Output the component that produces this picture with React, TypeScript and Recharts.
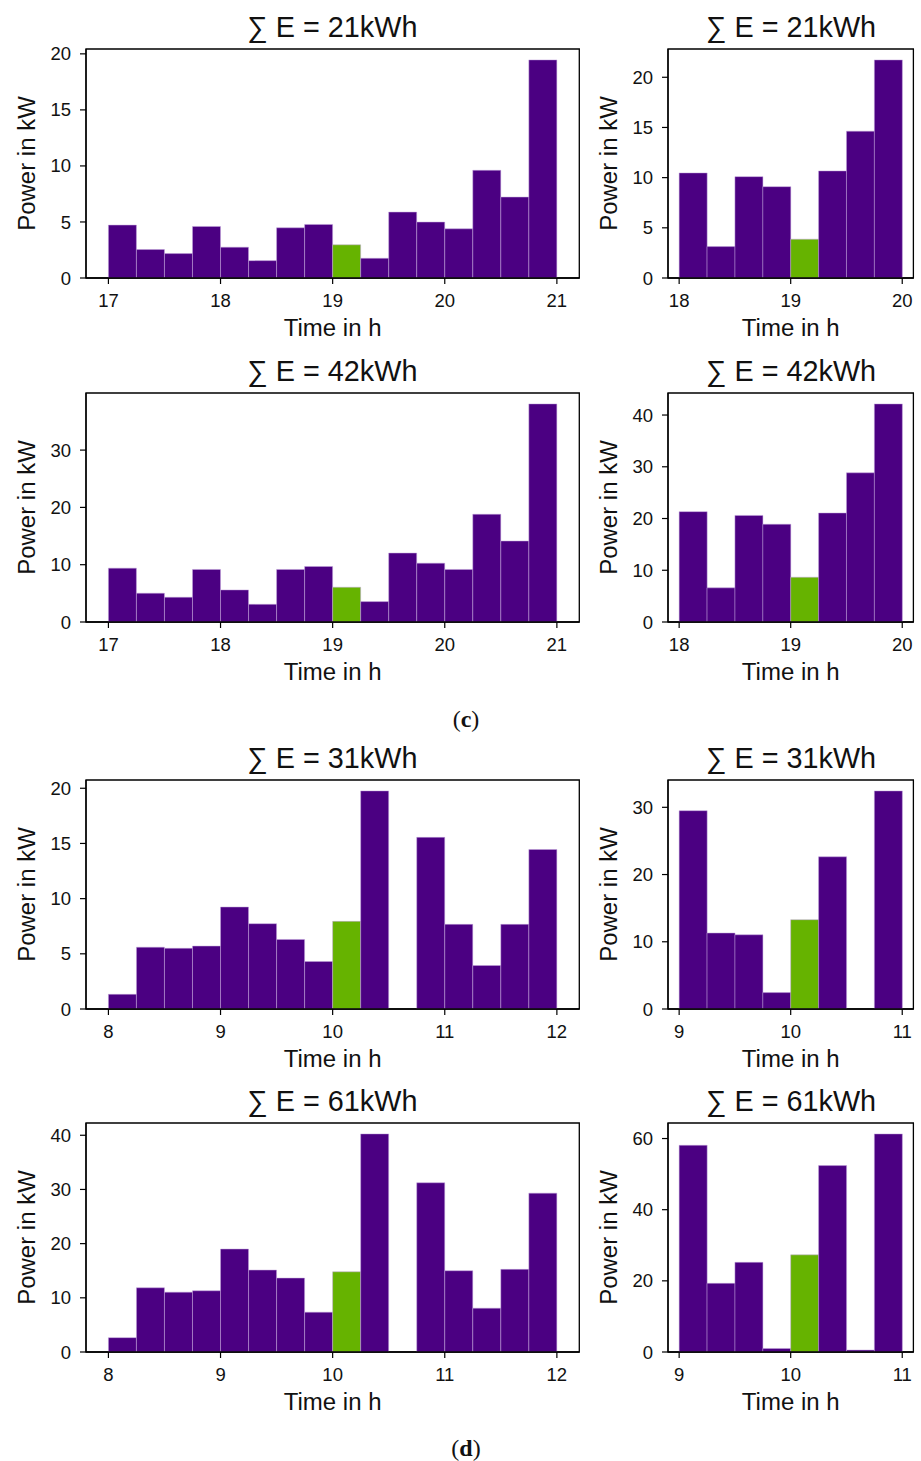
import React from 'react';
import { BarChart, Bar, XAxis, YAxis, Cell, ReferenceArea, Label } from 'recharts';

const PURPLE = '#4b0082';
const GREEN = '#66b300';
const FONT = '"Liberation Sans", Arial, sans-serif';
const SERIF = '"Liberation Serif", "Times New Roman", serif';

// start of each 15 min bin (h)
const eveningBins = [17, 17.25, 17.5, 17.75, 18, 18.25, 18.5, 18.75, 19, 19.25, 19.5, 19.75, 20, 20.25, 20.5, 20.75];
const eveningShortBins = [18, 18.25, 18.5, 18.75, 19, 19.25, 19.5, 19.75];
const morningBins = [8, 8.25, 8.5, 8.75, 9, 9.25, 9.5, 9.75, 10, 10.25, 10.5, 10.75, 11, 11.25, 11.5, 11.75];
const morningShortBins = [9, 9.25, 9.5, 9.75, 10, 10.25, 10.5, 10.75];

// highlighted (green) bin
const eveningHighlight = 19;
const morningHighlight = 10;

const eveningTicks = [17, 18, 19, 20, 21];
const eveningShortTicks = [18, 19, 20];
const morningTicks = [8, 9, 10, 11, 12];
const morningShortTicks = [9, 10, 11];

// power in kW per bin
const power21Long = [4.72, 2.54, 2.18, 4.6, 2.75, 1.55, 4.48, 4.78, 2.96, 1.76, 5.88, 4.99, 4.39, 9.61, 7.22, 19.46];
const power21Short = [10.47, 3.13, 10.1, 9.1, 3.87, 10.67, 14.63, 21.73];
const power42Long = [9.4, 5.02, 4.32, 9.17, 5.6, 3.09, 9.17, 9.69, 6.07, 3.56, 12.03, 10.27, 9.17, 18.8, 14.13, 38.06];
const power42Short = [21.33, 6.6, 20.6, 18.9, 8.66, 21.07, 28.83, 42.15];
const power31Long = [1.33, 5.6, 5.5, 5.7, 9.24, 7.73, 6.3, 4.3, 7.94, 19.76, 0, 15.55, 7.67, 3.94, 7.67, 14.45];
const power31Short = [29.5, 11.3, 11.04, 2.44, 13.28, 22.64, 0, 32.44];
const power61Long = [2.65, 11.85, 11.05, 11.3, 19.0, 15.12, 13.64, 7.35, 14.8, 40.25, 0, 31.23, 15.0, 8.09, 15.25, 29.32];
const power61Short = [58.1, 19.3, 25.2, 1.0, 27.3, 52.4, 0.55, 61.3];

const yTicks21Long = [0, 5, 10, 15, 20];
const yTicks21Short = [0, 5, 10, 15, 20];
const yTicks42Long = [0, 10, 20, 30];
const yTicks42Short = [0, 10, 20, 30, 40];
const yTicks31Long = [0, 5, 10, 15, 20];
const yTicks31Short = [0, 10, 20, 30];
const yTicks61Long = [0, 10, 20, 30, 40];
const yTicks61Short = [0, 20, 40, 60];

const titles = ['∑ E = 21kWh', '∑ E = 21kWh', '∑ E = 42kWh', '∑ E = 42kWh', '∑ E = 31kWh', '∑ E = 31kWh', '∑ E = 61kWh', '∑ E = 61kWh'];

const BIN = 0.25;
const Y_AXIS_W = 119;
const X_AXIS_H = 99;
const PLOT_H = 229;
const LEFT_COL = { left: 85.7, width: 493.3 };
const RIGHT_COL = { left: 668.3, width: 245.4 };
const ROW_TOPS = [49, 393, 780, 1123];

type PanelProps = {
  bins: number[];
  values: number[];
  xTicks: number[];
  yTicks: number[];
  highlight: number;
  left: number;
  top: number;
  width: number;
};

const tickStyle = { fontSize: 18.5, fill: '#111', fontFamily: FONT };
const labelStyle = { fontSize: 24, fill: '#111', fontFamily: FONT };

const Panel: React.FC<PanelProps> = ({ bins, values, xTicks, yTicks, highlight, left, top, width }) => {
  const data = bins.map((b, i) => ({ t: b + BIN / 2, p: values[i], hl: b === highlight }));
  const first = bins[0];
  const last = bins[bins.length - 1] + BIN;
  const pad = (last - first) * 0.05;
  const yMax = Math.max(...values) * 1.05;

  return (
    <div style={{ position: 'absolute', left: left - Y_AXIS_W, top: top - 5 }}>
      <BarChart
        width={Y_AXIS_W + width + 5}
        height={5 + PLOT_H + X_AXIS_H}
        data={data}
        margin={{ top: 5, right: 5, bottom: 0, left: 0 }}
        barCategoryGap={0}
        barGap={0}
      >
        <XAxis
          type="number"
          dataKey="t"
          domain={[first - pad, last + pad]}
          ticks={xTicks}
          interval={0}
          allowDataOverflow
          height={X_AXIS_H}
          tickSize={6}
          tickMargin={10}
          tick={tickStyle}
          tickLine={{ stroke: '#000', strokeWidth: 1.2 }}
          axisLine={{ stroke: '#000', strokeWidth: 1.3 }}
        >
          <Label value="Time in h" position="center" style={labelStyle} />
        </XAxis>
        <YAxis
          type="number"
          domain={[0, yMax]}
          ticks={yTicks}
          interval={0}
          allowDataOverflow
          width={Y_AXIS_W}
          tickSize={6}
          tickMargin={9}
          tick={tickStyle}
          tickLine={{ stroke: '#000', strokeWidth: 1.2 }}
          axisLine={{ stroke: '#000', strokeWidth: 1.3 }}
        >
          <Label value="Power in kW" angle={-90} position="center" style={labelStyle} />
        </YAxis>
        <Bar dataKey="p" isAnimationActive={false} stroke="#c2a3dc" strokeWidth={0.5}>
          {data.map((d, i) => (
            <Cell key={i} fill={d.hl ? GREEN : PURPLE} />
          ))}
        </Bar>
        <ReferenceArea
          x1={first - pad}
          x2={last + pad}
          y1={0}
          y2={yMax}
          fill="none"
          stroke="#000"
          strokeWidth={1.3}
          ifOverflow="visible"
        />
      </BarChart>
    </div>
  );
};

const panels: PanelProps[] = [
  { bins: eveningBins, values: power21Long, xTicks: eveningTicks, yTicks: yTicks21Long, highlight: eveningHighlight, top: ROW_TOPS[0], ...LEFT_COL },
  { bins: eveningShortBins, values: power21Short, xTicks: eveningShortTicks, yTicks: yTicks21Short, highlight: eveningHighlight, top: ROW_TOPS[0], ...RIGHT_COL },
  { bins: eveningBins, values: power42Long, xTicks: eveningTicks, yTicks: yTicks42Long, highlight: eveningHighlight, top: ROW_TOPS[1], ...LEFT_COL },
  { bins: eveningShortBins, values: power42Short, xTicks: eveningShortTicks, yTicks: yTicks42Short, highlight: eveningHighlight, top: ROW_TOPS[1], ...RIGHT_COL },
  { bins: morningBins, values: power31Long, xTicks: morningTicks, yTicks: yTicks31Long, highlight: morningHighlight, top: ROW_TOPS[2], ...LEFT_COL },
  { bins: morningShortBins, values: power31Short, xTicks: morningShortTicks, yTicks: yTicks31Short, highlight: morningHighlight, top: ROW_TOPS[2], ...RIGHT_COL },
  { bins: morningBins, values: power61Long, xTicks: morningTicks, yTicks: yTicks61Long, highlight: morningHighlight, top: ROW_TOPS[3], ...LEFT_COL },
  { bins: morningShortBins, values: power61Short, xTicks: morningShortTicks, yTicks: yTicks61Short, highlight: morningHighlight, top: ROW_TOPS[3], ...RIGHT_COL },
];

export default function App() {
  return (
    <div style={{ position: 'absolute', left: 0, top: 0, width: 921, height: 1461, background: '#fff', overflow: 'hidden' }}>
      {panels.map((p, i) => (
        <Panel key={i} {...p} />
      ))}
      <svg width={921} height={1461} style={{ position: 'absolute', left: 0, top: 0, pointerEvents: 'none' }}>
        {panels.map((p, i) => (
          <text key={i} x={p.left + p.width / 2} y={p.top - 11.6} textAnchor="middle" fontSize={28.8} fontFamily={FONT} fill="#111">
            {titles[i]}
          </text>
        ))}
        <text x={466} y={727} textAnchor="middle" fontSize={24} fontFamily={SERIF} fill="#111">
          (<tspan fontWeight="bold">c</tspan>)
        </text>
        <text x={466} y={1456} textAnchor="middle" fontSize={24} fontFamily={SERIF} fill="#111">
          (<tspan fontWeight="bold">d</tspan>)
        </text>
      </svg>
    </div>
  );
}
